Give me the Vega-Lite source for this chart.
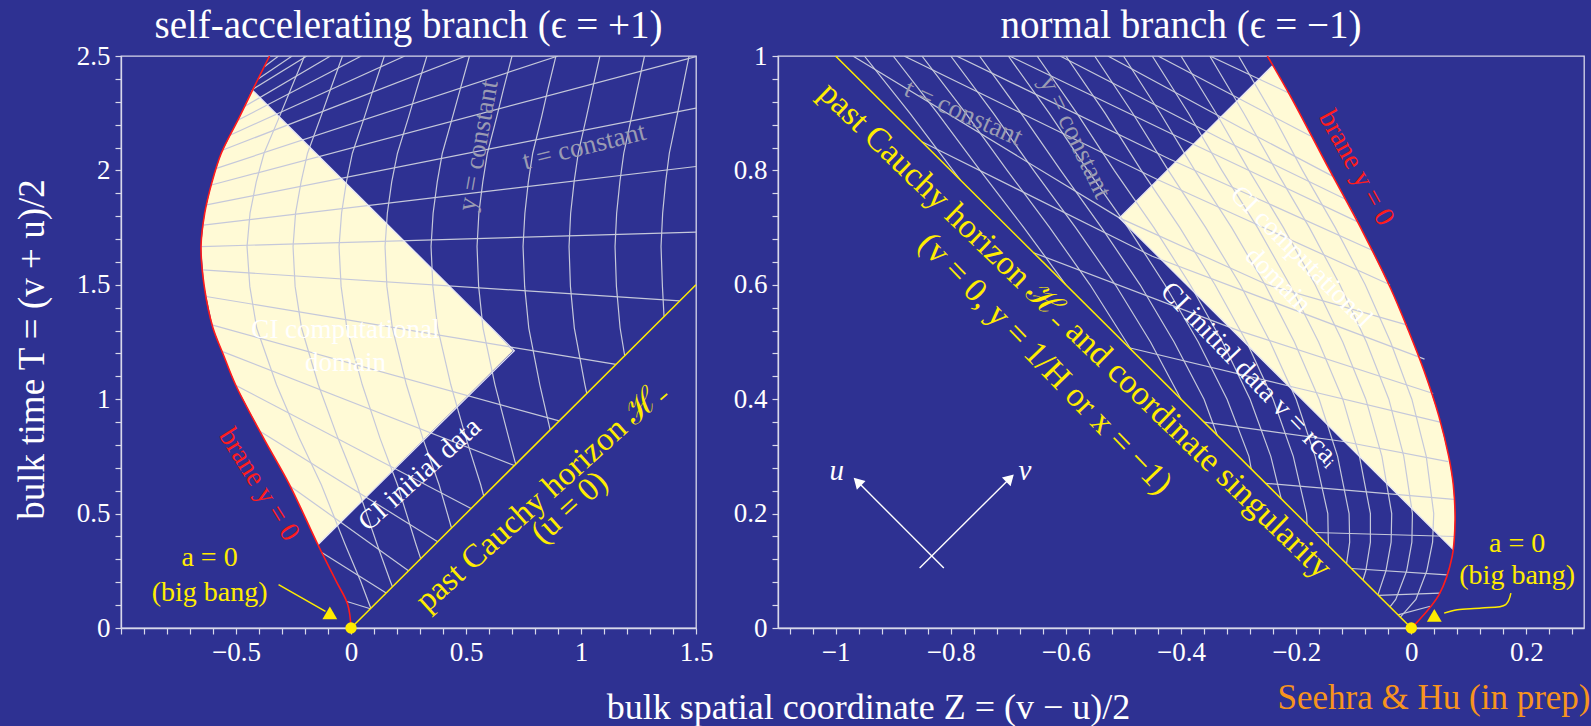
{
"$schema":"https://vega.github.io/schema/vega-lite/v6.json",
"background":"#2E3192",
"padding":{"left":12,"top":6,"right":0,"bottom":0},
"bounds":"flush",
"spacing":82,
"config":{
 "view":{"stroke":"#D8D8EA","strokeWidth":1.3},
 "axis":{"domainColor":"#D8D8EA","domainWidth":1.3,"tickColor":"#D8D8EA","tickWidth":1.2,"tickSize":6,"labelColor":"#FFFFFF","labelFont":"Liberation Serif","labelFontSize":27,"labelPadding":5,"labelOverlap":false,"labelFlush":false,"titleColor":"#FFFFFF","titleFont":"Liberation Serif","titleFontSize":36,"titleFontWeight":"normal","grid":false,"format":"~g"},
 "title":{"font":"Liberation Serif","fontSize":39,"fontWeight":"normal","color":"#FFFFFF"},
 "text":{"font":"Liberation Serif"}
},
"datasets":{
 "lb":[{"Z":0,"T":0},{"Z":-0.014,"T":0.102},{"Z":-0.064,"T":0.204},{"Z":-0.144,"T":0.364},{"Z":-0.267,"T":0.626},{"Z":-0.38,"T":0.83},{"Z":-0.502,"T":1.063},{"Z":-0.557,"T":1.2},{"Z":-0.6,"T":1.311},{"Z":-0.638,"T":1.493},{"Z":-0.652,"T":1.667},{"Z":-0.636,"T":1.813},{"Z":-0.604,"T":1.95},{"Z":-0.564,"T":2.075},{"Z":-0.484,"T":2.235},{"Z":-0.426,"T":2.355},{"Z":-0.354,"T":2.5}],
 "ly":[{"T":0.364,"Z":-0.144,"Z2":-0.144},{"T":0.626,"Z":-0.267,"Z2":0.118},{"T":0.83,"Z":-0.38,"Z2":0.322},{"T":1.063,"Z":-0.502,"Z2":0.555},{"T":1.212,"Z":-0.562,"Z2":0.704},{"T":1.311,"Z":-0.6,"Z2":0.611},{"T":1.493,"Z":-0.638,"Z2":0.429},{"T":1.667,"Z":-0.652,"Z2":0.255},{"T":1.813,"Z":-0.636,"Z2":0.109},{"T":1.95,"Z":-0.604,"Z2":-0.028},{"T":2.075,"Z":-0.564,"Z2":-0.153},{"T":2.235,"Z":-0.484,"Z2":-0.313},{"T":2.352,"Z":-0.43,"Z2":-0.43}],
 "lg":[
 {"g":"U0","Z":-0.652,"T":1.667},{"g":"U0","Z":1.5,"T":1.73},
 {"g":"U1","Z":-0.642,"T":1.761},{"g":"U1","Z":1.5,"T":2.017},
 {"g":"U2","Z":-0.628,"T":1.849},{"g":"U2","Z":1.5,"T":2.272},
 {"g":"U3","Z":-0.607,"T":1.936},{"g":"U3","Z":1.5,"T":2.497},
 {"g":"U4","Z":-0.585,"T":2.009},{"g":"U4","Z":0.9,"T":2.5},
 {"g":"U5","Z":-0.557,"T":2.089},{"g":"U5","Z":0.5,"T":2.5},
 {"g":"U6","Z":-0.524,"T":2.155},{"g":"U6","Z":0.234,"T":2.5},
 {"g":"U7","Z":-0.49,"T":2.22},{"g":"U7","Z":0.045,"T":2.5},
 {"g":"U8","Z":-0.463,"T":2.279},{"g":"U8","Z":-0.089,"T":2.5},
 {"g":"U9","Z":-0.426,"T":2.355},{"g":"U9","Z":-0.192,"T":2.5},
 {"g":"U10","Z":-0.404,"T":2.4},{"g":"U10","Z":-0.256,"T":2.5},
 {"g":"U11","Z":-0.377,"T":2.453},{"g":"U11","Z":-0.315,"T":2.5},
 {"g":"L1","Z":-0.646,"T":1.565},{"g":"L1","Z":1.43,"T":1.43},
 {"g":"L2","Z":-0.63,"T":1.449},{"g":"L2","Z":1.152,"T":1.152},
 {"g":"L3","Z":-0.605,"T":1.325},{"g":"L3","Z":0.905,"T":0.905},
 {"g":"L4","Z":-0.561,"T":1.209},{"g":"L4","Z":0.71,"T":0.71},
 {"g":"L5","Z":-0.5,"T":1.06},{"g":"L5","Z":0.522,"T":0.522},
 {"g":"L6","Z":-0.396,"T":0.86},{"g":"L6","Z":0.377,"T":0.377},
 {"g":"L7","Z":-0.264,"T":0.62},{"g":"L7","Z":0.25,"T":0.25},
 {"g":"L8","Z":-0.127,"T":0.33},{"g":"L8","Z":0.153,"T":0.153},
 {"g":"L9","Z":-0.021,"T":0.117},{"g":"L9","Z":0.084,"T":0.084},
 {"g":"K1","Z":0.086,"T":0.086},{"g":"K1","Z":0.042,"T":0.204},{"g":"K1","Z":-0.025,"T":0.364},{"g":"K1","Z":-0.129,"T":0.626},{"g":"K1","Z":-0.225,"T":0.83},{"g":"K1","Z":-0.324,"T":1.063},{"g":"K1","Z":-0.41,"T":1.311},{"g":"K1","Z":-0.44,"T":1.493},{"g":"K1","Z":-0.452,"T":1.667},{"g":"K1","Z":-0.439,"T":1.813},{"g":"K1","Z":-0.412,"T":1.95},{"g":"K1","Z":-0.378,"T":2.075},{"g":"K1","Z":-0.311,"T":2.235},{"g":"K1","Z":-0.262,"T":2.355},{"g":"K1","Z":-0.202,"T":2.5},
 {"g":"K2","Z":0.18,"T":0.18},{"g":"K2","Z":0.171,"T":0.204},{"g":"K2","Z":0.114,"T":0.364},{"g":"K2","Z":0.025,"T":0.626},{"g":"K2","Z":-0.057,"T":0.83},{"g":"K2","Z":-0.142,"T":1.063},{"g":"K2","Z":-0.215,"T":1.311},{"g":"K2","Z":-0.243,"T":1.493},{"g":"K2","Z":-0.252,"T":1.667},{"g":"K2","Z":-0.241,"T":1.813},{"g":"K2","Z":-0.217,"T":1.95},{"g":"K2","Z":-0.189,"T":2.075},{"g":"K2","Z":-0.131,"T":2.235},{"g":"K2","Z":-0.089,"T":2.355},{"g":"K2","Z":-0.037,"T":2.5},
 {"g":"K3","Z":0.303,"T":0.303},{"g":"K3","Z":0.283,"T":0.364},{"g":"K3","Z":0.202,"T":0.626},{"g":"K3","Z":0.126,"T":0.83},{"g":"K3","Z":0.049,"T":1.063},{"g":"K3","Z":-0.018,"T":1.311},{"g":"K3","Z":-0.043,"T":1.493},{"g":"K3","Z":-0.052,"T":1.667},{"g":"K3","Z":-0.041,"T":1.813},{"g":"K3","Z":-0.02,"T":1.95},{"g":"K3","Z":0.006,"T":2.075},{"g":"K3","Z":0.059,"T":2.235},{"g":"K3","Z":0.097,"T":2.355},{"g":"K3","Z":0.145,"T":2.5},
 {"g":"K4","Z":0.437,"T":0.437},{"g":"K4","Z":0.383,"T":0.626},{"g":"K4","Z":0.312,"T":0.83},{"g":"K4","Z":0.241,"T":1.063},{"g":"K4","Z":0.18,"T":1.311},{"g":"K4","Z":0.156,"T":1.493},{"g":"K4","Z":0.148,"T":1.667},{"g":"K4","Z":0.158,"T":1.813},{"g":"K4","Z":0.177,"T":1.95},{"g":"K4","Z":0.202,"T":2.075},{"g":"K4","Z":0.251,"T":2.235},{"g":"K4","Z":0.286,"T":2.355},{"g":"K4","Z":0.33,"T":2.5},
 {"g":"K5","Z":0.577,"T":0.577},{"g":"K5","Z":0.564,"T":0.626},{"g":"K5","Z":0.5,"T":0.83},{"g":"K5","Z":0.434,"T":1.063},{"g":"K5","Z":0.377,"T":1.311},{"g":"K5","Z":0.356,"T":1.493},{"g":"K5","Z":0.348,"T":1.667},{"g":"K5","Z":0.357,"T":1.813},{"g":"K5","Z":0.375,"T":1.95},{"g":"K5","Z":0.397,"T":2.075},{"g":"K5","Z":0.442,"T":2.235},{"g":"K5","Z":0.475,"T":2.355},{"g":"K5","Z":0.515,"T":2.5},
 {"g":"K6","Z":0.716,"T":0.716},{"g":"K6","Z":0.686,"T":0.83},{"g":"K6","Z":0.626,"T":1.063},{"g":"K6","Z":0.574,"T":1.311},{"g":"K6","Z":0.555,"T":1.493},{"g":"K6","Z":0.548,"T":1.667},{"g":"K6","Z":0.556,"T":1.813},{"g":"K6","Z":0.573,"T":1.95},{"g":"K6","Z":0.593,"T":2.075},{"g":"K6","Z":0.634,"T":2.235},{"g":"K6","Z":0.663,"T":2.355},{"g":"K6","Z":0.7,"T":2.5},
 {"g":"K7","Z":0.866,"T":0.866},{"g":"K7","Z":0.821,"T":1.063},{"g":"K7","Z":0.773,"T":1.311},{"g":"K7","Z":0.755,"T":1.493},{"g":"K7","Z":0.748,"T":1.667},{"g":"K7","Z":0.756,"T":1.813},{"g":"K7","Z":0.771,"T":1.95},{"g":"K7","Z":0.79,"T":2.075},{"g":"K7","Z":0.829,"T":2.235},{"g":"K7","Z":0.856,"T":2.355},{"g":"K7","Z":0.891,"T":2.5},
 {"g":"K8","Z":1.025,"T":1.025},{"g":"K8","Z":1.017,"T":1.063},{"g":"K8","Z":0.971,"T":1.311},{"g":"K8","Z":0.954,"T":1.493},{"g":"K8","Z":0.948,"T":1.667},{"g":"K8","Z":0.955,"T":1.813},{"g":"K8","Z":0.97,"T":1.95},{"g":"K8","Z":0.988,"T":2.075},{"g":"K8","Z":1.024,"T":2.235},{"g":"K8","Z":1.05,"T":2.355},{"g":"K8","Z":1.082,"T":2.5},
 {"g":"K9","Z":1.19,"T":1.19},{"g":"K9","Z":1.17,"T":1.311},{"g":"K9","Z":1.154,"T":1.493},{"g":"K9","Z":1.148,"T":1.667},{"g":"K9","Z":1.155,"T":1.813},{"g":"K9","Z":1.169,"T":1.95},{"g":"K9","Z":1.186,"T":2.075},{"g":"K9","Z":1.22,"T":2.235},{"g":"K9","Z":1.245,"T":2.355},{"g":"K9","Z":1.276,"T":2.5},
 {"g":"K10","Z":1.361,"T":1.361},{"g":"K10","Z":1.354,"T":1.493},{"g":"K10","Z":1.348,"T":1.667},{"g":"K10","Z":1.355,"T":1.813},{"g":"K10","Z":1.368,"T":1.95},{"g":"K10","Z":1.384,"T":2.075},{"g":"K10","Z":1.417,"T":2.235},{"g":"K10","Z":1.441,"T":2.355},{"g":"K10","Z":1.47,"T":2.5}
 ],
 "rb":[{"Z":0,"T":0},{"Z":0.009,"T":0.009},{"Z":0.048,"T":0.058},{"Z":0.071,"T":0.125},{"Z":0.076,"T":0.19},{"Z":0.073,"T":0.25},{"Z":0.065,"T":0.3},{"Z":0.048,"T":0.37},{"Z":0.022,"T":0.45},{"Z":-0.005,"T":0.52},{"Z":-0.036,"T":0.594},{"Z":-0.085,"T":0.694},{"Z":-0.147,"T":0.81},{"Z":-0.21,"T":0.93},{"Z":-0.25,"T":1.0}],
 "ry":[{"T":0.137,"Z":0.073,"Z2":0.073},{"T":0.19,"Z":0.02,"Z2":0.076},{"T":0.25,"Z":-0.04,"Z2":0.073},{"T":0.3,"Z":-0.09,"Z2":0.065},{"T":0.37,"Z":-0.16,"Z2":0.048},{"T":0.45,"Z":-0.24,"Z2":0.022},{"T":0.52,"Z":-0.31,"Z2":-0.005},{"T":0.594,"Z":-0.384,"Z2":-0.036},{"T":0.694,"Z":-0.484,"Z2":-0.085},{"T":0.717,"Z":-0.507,"Z2":-0.096},{"T":0.81,"Z":-0.414,"Z2":-0.147},{"T":0.93,"Z":-0.294,"Z2":-0.21},{"T":0.983,"Z":-0.241,"Z2":-0.24}],
 "rg":[
 {"g":"A1","Z":-0.35,"T":1.0},{"g":"A1","Z":-0.212,"T":0.935},
 {"g":"A2","Z":-0.44,"T":1.0},{"g":"A2","Z":-0.175,"T":0.86},
 {"g":"A3","Z":-0.527,"T":1.0},{"g":"A3","Z":-0.29,"T":0.871},{"g":"A3","Z":-0.137,"T":0.79},
 {"g":"A4","Z":-0.61,"T":1.0},{"g":"A4","Z":-0.33,"T":0.855},{"g":"A4","Z":-0.115,"T":0.75},
 {"g":"A5","Z":-0.698,"T":1.0},{"g":"A5","Z":-0.383,"T":0.848},{"g":"A5","Z":-0.093,"T":0.71},
 {"g":"A6","Z":-0.79,"T":1.0},{"g":"A6","Z":-0.42,"T":0.82},{"g":"A6","Z":-0.067,"T":0.66},
 {"g":"A7","Z":-0.881,"T":1.0},{"g":"A7","Z":-0.441,"T":0.784},{"g":"A7","Z":-0.037,"T":0.6},
 {"g":"A8","Z":-0.97,"T":1.0},{"g":"A8","Z":-0.507,"T":0.717},{"g":"A8","Z":-0.25,"T":0.6},{"g":"A8","Z":-0.008,"T":0.53},
 {"g":"A9","Z":-0.85,"T":0.85},{"g":"A9","Z":-0.45,"T":0.65},{"g":"A9","Z":0.023,"T":0.47},
 {"g":"A10","Z":-0.656,"T":0.656},{"g":"A10","Z":-0.3,"T":0.52},{"g":"A10","Z":0.038,"T":0.41},
 {"g":"A11","Z":-0.49,"T":0.49},{"g":"A11","Z":-0.2,"T":0.42},{"g":"A11","Z":0.05,"T":0.36},
 {"g":"A12","Z":-0.36,"T":0.36},{"g":"A12","Z":-0.118,"T":0.326},{"g":"A12","Z":0.064,"T":0.291},
 {"g":"A13","Z":-0.253,"T":0.253},{"g":"A13","Z":0.074,"T":0.225},
 {"g":"A14","Z":-0.167,"T":0.167},{"g":"A14","Z":0.075,"T":0.16},
 {"g":"A15","Z":-0.104,"T":0.104},{"g":"A15","Z":0.062,"T":0.093},
 {"g":"A16","Z":-0.057,"T":0.057},{"g":"A16","Z":0.05,"T":0.061},
 {"g":"A17","Z":-0.023,"T":0.023},{"g":"A17","Z":0.033,"T":0.038},
 {"g":"C1","Z":-0.019,"T":0.019},{"g":"C1","Z":0.008,"T":0.05},{"g":"C1","Z":0.027,"T":0.1},{"g":"C1","Z":0.037,"T":0.15},{"g":"C1","Z":0.039,"T":0.2},{"g":"C1","Z":0.026,"T":0.3},{"g":"C1","Z":0.001,"T":0.4},{"g":"C1","Z":-0.036,"T":0.5},{"g":"C1","Z":-0.08,"T":0.6},{"g":"C1","Z":-0.132,"T":0.7},{"g":"C1","Z":-0.189,"T":0.8},{"g":"C1","Z":-0.242,"T":0.9},{"g":"C1","Z":-0.3,"T":1.0},
 {"g":"C2","Z":-0.037,"T":0.037},{"g":"C2","Z":-0.027,"T":0.05},{"g":"C2","Z":-0.008,"T":0.1},{"g":"C2","Z":0.001,"T":0.15},{"g":"C2","Z":0.002,"T":0.2},{"g":"C2","Z":-0.013,"T":0.3},{"g":"C2","Z":-0.039,"T":0.4},{"g":"C2","Z":-0.078,"T":0.5},{"g":"C2","Z":-0.124,"T":0.6},{"g":"C2","Z":-0.177,"T":0.7},{"g":"C2","Z":-0.235,"T":0.8},{"g":"C2","Z":-0.291,"T":0.9},{"g":"C2","Z":-0.35,"T":1.0},
 {"g":"C3","Z":-0.058,"T":0.058},{"g":"C3","Z":-0.044,"T":0.1},{"g":"C3","Z":-0.035,"T":0.15},{"g":"C3","Z":-0.034,"T":0.2},{"g":"C3","Z":-0.051,"T":0.3},{"g":"C3","Z":-0.079,"T":0.4},{"g":"C3","Z":-0.119,"T":0.5},{"g":"C3","Z":-0.167,"T":0.6},{"g":"C3","Z":-0.222,"T":0.7},{"g":"C3","Z":-0.282,"T":0.8},{"g":"C3","Z":-0.339,"T":0.9},{"g":"C3","Z":-0.4,"T":1.0},
 {"g":"C4","Z":-0.084,"T":0.084},{"g":"C4","Z":-0.079,"T":0.1},{"g":"C4","Z":-0.071,"T":0.15},{"g":"C4","Z":-0.071,"T":0.2},{"g":"C4","Z":-0.09,"T":0.3},{"g":"C4","Z":-0.119,"T":0.4},{"g":"C4","Z":-0.161,"T":0.5},{"g":"C4","Z":-0.211,"T":0.6},{"g":"C4","Z":-0.267,"T":0.7},{"g":"C4","Z":-0.329,"T":0.8},{"g":"C4","Z":-0.387,"T":0.9},{"g":"C4","Z":-0.45,"T":1.0},
 {"g":"C5","Z":-0.1125,"T":0.1125},{"g":"C5","Z":-0.107,"T":0.15},{"g":"C5","Z":-0.108,"T":0.2},{"g":"C5","Z":-0.128,"T":0.3},{"g":"C5","Z":-0.16,"T":0.4},{"g":"C5","Z":-0.203,"T":0.5},{"g":"C5","Z":-0.254,"T":0.6},{"g":"C5","Z":-0.312,"T":0.7},{"g":"C5","Z":-0.376,"T":0.8},{"g":"C5","Z":-0.436,"T":0.9},{"g":"C5","Z":-0.5,"T":1.0},
 {"g":"C6","Z":-0.144,"T":0.144},{"g":"C6","Z":-0.145,"T":0.2},{"g":"C6","Z":-0.167,"T":0.3},{"g":"C6","Z":-0.2,"T":0.4},{"g":"C6","Z":-0.245,"T":0.5},{"g":"C6","Z":-0.297,"T":0.6},{"g":"C6","Z":-0.357,"T":0.7},{"g":"C6","Z":-0.422,"T":0.8},{"g":"C6","Z":-0.484,"T":0.9},{"g":"C6","Z":-0.55,"T":1.0},
 {"g":"C7","Z":-0.181,"T":0.181},{"g":"C7","Z":-0.182,"T":0.2},{"g":"C7","Z":-0.205,"T":0.3},{"g":"C7","Z":-0.24,"T":0.4},{"g":"C7","Z":-0.286,"T":0.5},{"g":"C7","Z":-0.341,"T":0.6},{"g":"C7","Z":-0.402,"T":0.7},{"g":"C7","Z":-0.469,"T":0.8},{"g":"C7","Z":-0.532,"T":0.9},{"g":"C7","Z":-0.6,"T":1.0},
 {"g":"C8","Z":-0.226,"T":0.226},{"g":"C8","Z":-0.244,"T":0.3},{"g":"C8","Z":-0.28,"T":0.4},{"g":"C8","Z":-0.328,"T":0.5},{"g":"C8","Z":-0.384,"T":0.6},{"g":"C8","Z":-0.447,"T":0.7},{"g":"C8","Z":-0.516,"T":0.8},{"g":"C8","Z":-0.581,"T":0.9},{"g":"C8","Z":-0.65,"T":1.0},
 {"g":"C9","Z":-0.278,"T":0.278},{"g":"C9","Z":-0.282,"T":0.3},{"g":"C9","Z":-0.32,"T":0.4},{"g":"C9","Z":-0.37,"T":0.5},{"g":"C9","Z":-0.428,"T":0.6},{"g":"C9","Z":-0.492,"T":0.7},{"g":"C9","Z":-0.562,"T":0.8},{"g":"C9","Z":-0.629,"T":0.9},{"g":"C9","Z":-0.7,"T":1.0},
 {"g":"C10","Z":-0.337,"T":0.337},{"g":"C10","Z":-0.36,"T":0.4},{"g":"C10","Z":-0.412,"T":0.5},{"g":"C10","Z":-0.471,"T":0.6},{"g":"C10","Z":-0.538,"T":0.7},{"g":"C10","Z":-0.609,"T":0.8},{"g":"C10","Z":-0.678,"T":0.9},{"g":"C10","Z":-0.75,"T":1.0},
 {"g":"C11","Z":-0.4,"T":0.4},{"g":"C11","Z":-0.453,"T":0.5},{"g":"C11","Z":-0.514,"T":0.6},{"g":"C11","Z":-0.583,"T":0.7},{"g":"C11","Z":-0.656,"T":0.8},{"g":"C11","Z":-0.726,"T":0.9},{"g":"C11","Z":-0.8,"T":1.0},
 {"g":"C12","Z":-0.486,"T":0.486},{"g":"C12","Z":-0.495,"T":0.5},{"g":"C12","Z":-0.558,"T":0.6},{"g":"C12","Z":-0.628,"T":0.7},{"g":"C12","Z":-0.702,"T":0.8},{"g":"C12","Z":-0.774,"T":0.9},{"g":"C12","Z":-0.85,"T":1.0},
 {"g":"C13","Z":-0.6,"T":0.6},{"g":"C13","Z":-0.673,"T":0.7},{"g":"C13","Z":-0.749,"T":0.8},{"g":"C13","Z":-0.823,"T":0.9},{"g":"C13","Z":-0.9,"T":1.0},
 {"g":"C14","Z":-0.783,"T":0.783},{"g":"C14","Z":-0.796,"T":0.8},{"g":"C14","Z":-0.871,"T":0.9},{"g":"C14","Z":-0.95,"T":1.0}
 ]
},
"hconcat":[
 {
  "width":575,"height":572,
  "title":{"text":"self-accelerating branch (ϵ = +1)","offset":-4},
  "encoding":{
   "x":{"field":"Z","type":"quantitative","scale":{"domain":[-1,1.5],"nice":false,"zero":false},
        "axis":{"values":[-1,-0.9,-0.8,-0.7,-0.6,-0.5,-0.4,-0.3,-0.2,-0.1,0,0.1,0.2,0.3,0.4,0.5,0.6,0.7,0.8,0.9,1,1.1,1.2,1.3,1.4,1.5],
                "labelExpr":"abs(datum.value*2-round(datum.value*2))<0.001 && datum.value>-0.99 ? datum.label : ''",
                "title":"bulk spatial coordinate Z = (v − u)/2","titleX":747,"titleAlign":"center","titlePadding":25,"titleFontSize":36}},
   "y":{"field":"T","type":"quantitative","scale":{"domain":[0,2.5],"nice":false,"zero":false},
        "axis":{"values":[0,0.1,0.2,0.3,0.4,0.5,0.6,0.7,0.8,0.9,1,1.1,1.2,1.3,1.4,1.5,1.6,1.7,1.8,1.9,2,2.1,2.2,2.3,2.4,2.5],
                "labelExpr":"abs(datum.value*2-round(datum.value*2))<0.001 ? datum.label : ''",
                "title":"bulk time T = (v + u)/2","titlePadding":25,"titleFontSize":37,"titleY":293,"titleAlign":"center"}}
  },
  "layer":[
   {"data":{"name":"ly"},"mark":{"type":"area","orient":"horizontal","color":"#FFFAD6","opacity":1,"clip":true},"encoding":{"x2":{"field":"Z2"}}},
   {"data":{"name":"lg"},"mark":{"type":"line","color":"#C5C8DA","strokeWidth":1.2,"clip":true},"encoding":{"detail":{"field":"g"},"order":{"value":null}}},
   {"data":{"values":[{"Z":-0.144,"T":0.364},{"Z":0.71,"T":1.212},{"Z":-0.43,"T":2.352}]},"mark":{"type":"line","color":"#E6E6F5","strokeWidth":1.3},"encoding":{"order":{"value":null}}},
   {"data":{"values":[{"Z":0,"T":0},{"Z":1.5,"T":1.5}]},"mark":{"type":"line","color":"#FFEC00","strokeWidth":1.5,"clip":true},"encoding":{}},
   {"data":{"name":"lb"},"mark":{"type":"line","color":"#FF1C1C","strokeWidth":1.6,"interpolate":"catmull-rom","clip":true},"encoding":{"order":{"value":null}}},
   {"data":{"values":[{"Z":-0.315,"T":0.19},{"Z":-0.111,"T":0.073}]},"mark":{"type":"line","color":"#FFEC00","strokeWidth":1.5},"encoding":{}},
   {"data":{"values":[{"Z":-0.092,"T":0.066}]},"mark":{"type":"point","shape":"triangle-up","filled":true,"size":220,"color":"#FFEC00","opacity":1},"encoding":{}},
   {"data":{"values":[{"Z":0,"T":0}]},"mark":{"type":"point","shape":"circle","filled":true,"size":130,"color":"#FFEC00","opacity":1,"clip":false},"encoding":{}},
   {"data":{"values":[{"Z":-0.024,"T":1.302,"s":"CI computational\ndomain"}]},"mark":{"type":"text","color":"#FFFFFF","fontSize":27,"lineBreak":"\n","lineHeight":33,"align":"center","baseline":"middle"},"encoding":{"text":{"field":"s","type":"nominal"}}},
   {"data":{"values":[{"Z":0.3,"T":0.67,"s":"CI initial data"}]},"mark":{"type":"text","color":"#FFFFFF","fontSize":28,"angle":-42,"align":"center","baseline":"middle"},"encoding":{"text":{"field":"s","type":"nominal"}}},
   {"data":{"values":[{"Z":-0.401,"T":0.626,"s":"brane y = 0"}]},"mark":{"type":"text","color":"#FF1C1C","fontSize":28,"angle":58,"align":"center","baseline":"middle"},"encoding":{"text":{"field":"s","type":"nominal"}}},
   {"data":{"values":[{"Z":0.554,"T":2.108,"s":"y = constant"}]},"mark":{"type":"text","color":"#9A9BB2","fontSize":27,"angle":-80,"align":"center","baseline":"middle"},"encoding":{"text":{"field":"s","type":"nominal"}}},
   {"data":{"values":[{"Z":1.014,"T":2.104,"s":"t = constant"}]},"mark":{"type":"text","color":"#9A9BB2","fontSize":27,"angle":-14,"align":"center","baseline":"middle"},"encoding":{"text":{"field":"s","type":"nominal"}}},
   {"data":{"values":[{"Z":0.828,"T":0.575,"s":"past Cauchy horizon ℋ₋"},{"Z":0.95,"T":0.527,"s":"(u = 0)"}]},"mark":{"type":"text","color":"#FFEC00","fontSize":33,"angle":-42,"align":"center","baseline":"middle"},"encoding":{"text":{"field":"s","type":"nominal"}}},
   {"data":{"values":[{"Z":-0.615,"T":0.306,"s":"a = 0\n(big bang)"}]},"mark":{"type":"text","color":"#FFEC00","fontSize":28,"lineBreak":"\n","lineHeight":35,"align":"center","baseline":"middle"},"encoding":{"text":{"field":"s","type":"nominal"}}}
  ]
 },
 {
  "width":806,"height":572,
  "title":{"text":"normal branch (ϵ = −1)","offset":-4},
  "encoding":{
   "x":{"field":"Z","type":"quantitative","scale":{"domain":[-1.1,0.3],"nice":false,"zero":false},
        "axis":{"values":[-1.08,-1.04,-1,-0.96,-0.92,-0.88,-0.84,-0.8,-0.76,-0.72,-0.68,-0.64,-0.6,-0.56,-0.52,-0.48,-0.44,-0.4,-0.36,-0.32,-0.28,-0.24,-0.2,-0.16,-0.12,-0.08,-0.04,0,0.04,0.08,0.12,0.16,0.2,0.24,0.28],
                "labelExpr":"abs(datum.value*5-round(datum.value*5))<0.001 ? datum.label : ''",
                "title":"Seehra & Hu (in prep)","titleColor":"#F7941D","titleFontSize":35,"titleX":812,"titleAlign":"right","titlePadding":15}},
   "y":{"field":"T","type":"quantitative","scale":{"domain":[0,1],"nice":false,"zero":false},
        "axis":{"values":[0,0.04,0.08,0.12,0.16,0.2,0.24,0.28,0.32,0.36,0.4,0.44,0.48,0.52,0.56,0.6,0.64,0.68,0.72,0.76,0.8,0.84,0.88,0.92,0.96,1],
                "labelExpr":"abs(datum.value*5-round(datum.value*5))<0.001 ? datum.label : ''","title":null}}
  },
  "layer":[
   {"data":{"name":"ry"},"mark":{"type":"area","orient":"horizontal","color":"#FFFAD6","opacity":1,"clip":true},"encoding":{"x2":{"field":"Z2"}}},
   {"data":{"name":"rg"},"mark":{"type":"line","color":"#C5C8DA","strokeWidth":1.2,"clip":true},"encoding":{"detail":{"field":"g"},"order":{"value":null}}},
   {"data":{"values":[{"Z":-0.241,"T":0.983},{"Z":-0.507,"T":0.717},{"Z":0.073,"T":0.137}]},"mark":{"type":"line","color":"#E6E6F5","strokeWidth":1.3},"encoding":{"order":{"value":null}}},
   {"data":{"values":[{"Z":0,"T":0},{"Z":-1,"T":1}]},"mark":{"type":"line","color":"#FFEC00","strokeWidth":1.5,"clip":true},"encoding":{"order":{"value":null}}},
   {"data":{"name":"rb"},"mark":{"type":"line","color":"#FF1C1C","strokeWidth":1.6,"interpolate":"catmull-rom","clip":true},"encoding":{"order":{"value":null}}},
   {"data":{"values":[{"g":"u","Z":-0.812,"T":0.105},{"g":"u","Z":-0.962,"T":0.256},{"g":"v","Z":-0.854,"T":0.105},{"g":"v","Z":-0.697,"T":0.262}]},"mark":{"type":"line","color":"#FFFFFF","strokeWidth":1.4},"encoding":{"detail":{"field":"g"},"order":{"value":null}}},
   {"data":{"values":[{"Z":-0.962,"T":0.256}]},"mark":{"type":"point","shape":"triangle-up","filled":true,"size":150,"angle":-45,"color":"#FFFFFF","opacity":1},"encoding":{}},
   {"data":{"values":[{"Z":-0.697,"T":0.262}]},"mark":{"type":"point","shape":"triangle-up","filled":true,"size":150,"angle":45,"color":"#FFFFFF","opacity":1},"encoding":{}},
   {"data":{"values":[{"Z":0.173,"T":0.061},{"Z":0.164,"T":0.041},{"Z":0.122,"T":0.035},{"Z":0.08,"T":0.032},{"Z":0.057,"T":0.026}]},"mark":{"type":"line","color":"#FFEC00","strokeWidth":1.5,"interpolate":"catmull-rom"},"encoding":{"order":{"value":null}}},
   {"data":{"values":[{"Z":0.04,"T":0.022}]},"mark":{"type":"point","shape":"triangle-up","filled":true,"size":220,"color":"#FFEC00","opacity":1},"encoding":{}},
   {"data":{"values":[{"Z":0,"T":0}]},"mark":{"type":"point","shape":"circle","filled":true,"size":130,"color":"#FFEC00","opacity":1,"clip":false},"encoding":{}},
   {"data":{"values":[{"Z":-0.584,"T":0.52,"s":"past Cauchy horizon ℋ₋ and coordinate singularity"}]},"mark":{"type":"text","color":"#FFEC00","fontSize":34,"angle":44,"align":"center","baseline":"middle"},"encoding":{"text":{"field":"s","type":"nominal"}}},
   {"data":{"values":[{"Z":-0.636,"T":0.462,"s":"(v = 0, y = 1/H or x = −1)"}]},"mark":{"type":"text","color":"#FFEC00","fontSize":34,"angle":46,"align":"center","baseline":"middle"},"encoding":{"text":{"field":"s","type":"nominal"}}},
   {"data":{"values":[{"Z":-0.281,"T":0.443,"s":"CI initial data v = rcaᵢ"}]},"mark":{"type":"text","color":"#FFFFFF","fontSize":28,"angle":46,"align":"center","baseline":"middle"},"encoding":{"text":{"field":"s","type":"nominal"}}},
   {"data":{"values":[{"Z":-0.191,"T":0.649,"s":"CI computational\ndomain"}]},"mark":{"type":"text","color":"#FFFFFF","fontSize":27,"angle":45,"lineBreak":"\n","lineHeight":33,"align":"center","baseline":"middle"},"encoding":{"text":{"field":"s","type":"nominal"}}},
   {"data":{"values":[{"Z":-0.096,"T":0.804,"s":"brane y = 0"}]},"mark":{"type":"text","color":"#FF1C1C","fontSize":28,"angle":61,"align":"center","baseline":"middle"},"encoding":{"text":{"field":"s","type":"nominal"}}},
   {"data":{"values":[{"Z":-0.778,"T":0.9,"s":"t = constant"}]},"mark":{"type":"text","color":"#9A9BB2","fontSize":27,"angle":24,"align":"center","baseline":"middle"},"encoding":{"text":{"field":"s","type":"nominal"}}},
   {"data":{"values":[{"Z":-0.584,"T":0.858,"s":"y = constant"}]},"mark":{"type":"text","color":"#9A9BB2","fontSize":27,"angle":64,"align":"center","baseline":"middle"},"encoding":{"text":{"field":"s","type":"nominal"}}},
   {"data":{"values":[{"Z":-0.998,"T":0.274,"s":"u"},{"Z":-0.671,"T":0.274,"s":"v"}]},"mark":{"type":"text","color":"#FFFFFF","fontSize":29,"fontStyle":"italic","align":"center","baseline":"middle"},"encoding":{"text":{"field":"s","type":"nominal"}}},
   {"data":{"values":[{"Z":0.184,"T":0.146,"s":"a = 0\n(big bang)"}]},"mark":{"type":"text","color":"#FFEC00","fontSize":28,"lineBreak":"\n","lineHeight":32,"align":"center","baseline":"middle"},"encoding":{"text":{"field":"s","type":"nominal"}}}
  ]
 }
]
}
